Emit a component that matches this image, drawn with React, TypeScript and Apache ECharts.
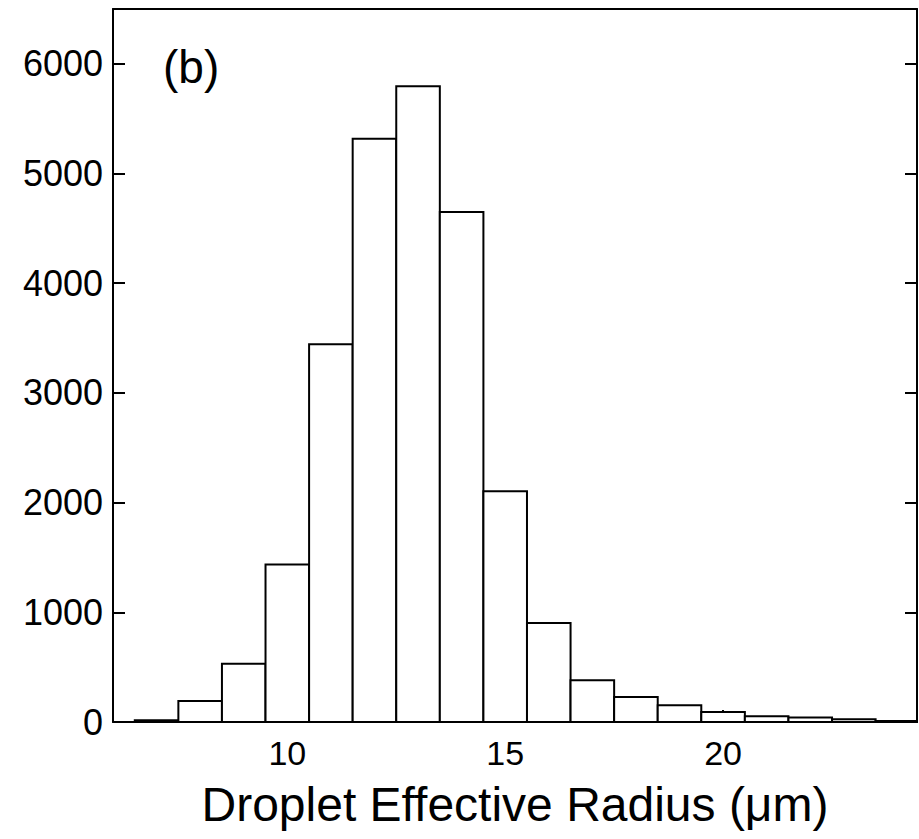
import React, { useEffect, useRef } from "react";
import * as echarts from "echarts";

// Histogram bins (centre of each 1-µm bin) and counts
const binCenters = [7, 8, 9, 10, 11, 12, 13, 14, 15, 16, 17, 18, 19, 20, 21, 22, 23, 24];
const counts = [15, 191, 532, 1435, 3443, 5318, 5795, 4649, 2103, 902, 380, 228, 152, 91, 52, 40, 25, 8];
const binWidth = 1;

const xTickValues = [10, 15, 20];
const yTickValues = [0, 1000, 2000, 3000, 4000, 5000, 6000];

const xTitle = "Droplet Effective Radius (\u03bcm)";
const panelLabel = "(b)";

const FONT = "'Liberation Sans', Arial, Helvetica, sans-serif";

export default function App() {
  const ref = useRef<HTMLDivElement>(null);
  useEffect(() => {
    document.body.style.margin = "0";
    if (!ref.current) return;
    const chart = echarts.init(ref.current, undefined, { renderer: "svg" });
    const data = binCenters.map((c, i) => [c, counts[i]]);
    const axisLine = { show: true, lineStyle: { color: "#000", width: 2 } };
    chart.setOption({
      animation: false,
      backgroundColor: "#fff",
      grid: {
        left: 113,
        right: 2,
        top: 9,
        bottom: 117,
        containLabel: false,
        outerBoundsMode: "none",
      },
      xAxis: [
        {
          type: "value",
          min: 6,
          max: 24.45,
          axisLine: { ...axisLine, onZero: false },
          splitLine: { show: false },
          axisTick: {
            show: true,
            inside: true,
            length: 12,
            customValues: xTickValues,
            lineStyle: { color: "#000", width: 2 },
          },
          axisLabel: {
            customValues: xTickValues,
            margin: 14,
            fontSize: 34,
            color: "#000",
            fontFamily: FONT,
            formatter: (v: number) => String(v),
          },
          name: xTitle,
          nameLocation: "middle",
          nameGap: 58,
          nameTextStyle: {
            fontSize: 48,
            color: "#000",
            fontFamily: FONT,
            verticalAlign: "top",
          },
        },
        {
          type: "value",
          position: "top",
          min: 6,
          max: 24.45,
          axisLine: { ...axisLine, onZero: false },
          axisTick: { show: false },
          axisLabel: { show: false },
          splitLine: { show: false },
        },
      ],
      yAxis: [
        {
          type: "value",
          min: 0,
          max: 6500,
          axisLine: { ...axisLine, onZero: false },
          splitLine: { show: false },
          axisTick: {
            show: true,
            inside: true,
            length: 12,
            customValues: yTickValues,
            lineStyle: { color: "#000", width: 2 },
          },
          axisLabel: {
            customValues: yTickValues,
            margin: 10,
            fontSize: 36,
            color: "#000",
            fontFamily: FONT,
            formatter: (v: number) => String(v),
          },
        },
        {
          type: "value",
          position: "right",
          min: 0,
          max: 6500,
          axisLine: { ...axisLine, onZero: false },
          splitLine: { show: false },
          axisTick: {
            show: true,
            inside: true,
            length: 12,
            customValues: yTickValues,
            lineStyle: { color: "#000", width: 2 },
          },
          axisLabel: { show: false },
        },
      ],
      series: [
        {
          type: "custom",
          xAxisIndex: 0,
          yAxisIndex: 0,
          data,
          renderItem: (params: any, api: any) => {
            const c = api.value(0);
            const v = api.value(1);
            const p0 = api.coord([c - binWidth / 2, v]);
            const p1 = api.coord([c + binWidth / 2, 0]);
            const cs = params.coordSys;
            const left = Math.max(p0[0], cs.x);
            const right = Math.min(p1[0], cs.x + cs.width);
            return {
              type: "rect",
              shape: { x: left, y: p0[1], width: right - left, height: p1[1] - p0[1] },
              style: { fill: "#fff", stroke: "#000", lineWidth: 2 },
            };
          },
        },
      ],
      graphic: [
        {
          type: "text",
          left: 163,
          top: 44,
          style: {
            text: panelLabel,
            fontSize: 46,
            fill: "#000",
            fontFamily: FONT,
          },
        },
      ],
    });
    return () => chart.dispose();
  }, []);
  return <div ref={ref} style={{ width: 919, height: 839 }} />;
}
